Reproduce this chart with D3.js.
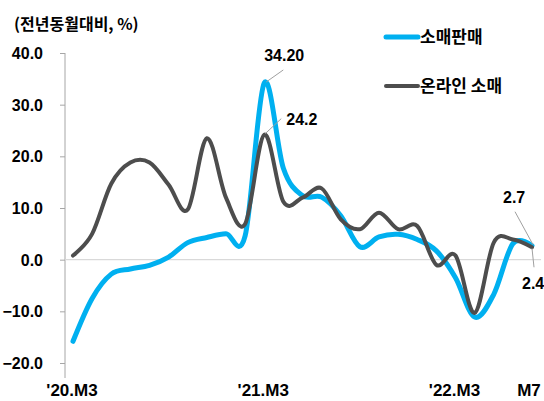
<!DOCTYPE html>
<html>
<head>
<meta charset="utf-8">
<script src="https://cdn.jsdelivr.net/npm/d3@7"></script>
<style>
  html, body { margin: 0; padding: 0; background: #fff; }
  svg { display: block; }
  text { font-family: "Noto Sans CJK KR", "Liberation Sans", sans-serif; font-weight: bold; fill: #000; }
  .num { font-family: "Liberation Sans", Arial, sans-serif; }
</style>
</head>
<body>
<script>
// Months shown (Jan/Feb omitted)
const months = [
  "20.3","20.4","20.5","20.6","20.7","20.8","20.9","20.10","20.11","20.12",
  "21.3","21.4","21.5","21.6","21.7","21.8","21.9","21.10","21.11","21.12",
  "22.3","22.4","22.5","22.6","22.7"
];
// 소매판매 (YoY %)
const retail = [
  -15.8, -7.5, -2.8, -1.8, -1.1, 0.5, 3.3, 4.3, 5.0, 4.6,
  34.2, 17.7, 12.4, 12.1, 8.5, 2.5, 4.4, 4.9, 3.9, 1.7,
  -3.5, -11.1, -6.7, 3.1, 2.7
];
// 온라인 소매 (YoY %)
const online = [
  0.8, 5.0, 14.7, 18.8, 18.8, 14.5, 9.7, 23.5, 12.0, 6.9,
  24.2, 11.2, 12.0, 13.8, 7.8, 5.9, 9.1, 5.9, 6.5, -1.0,
  0.8, -10.3, 3.3, 3.9, 2.4
];
// Category axis labels
const xTickLabels = [
  { month: "20.3", label: "'20.M3" },
  { month: "21.3", label: "'21.M3" },
  { month: "22.3", label: "'22.M3" },
  { month: "22.7", label: "M7" }
];
const yTicks = [-20, -10, 0, 10, 20, 30, 40];

const W = 544, H = 401;
const svg = d3.select("body").append("svg").attr("width", W).attr("height", H);

const x = d3.scalePoint().domain(months).range([73, 532]);
const y = d3.scaleLinear().domain([-20, 40]).range([363, 53]);

const BLUE = "#00B0F0", GRAY = "#4D4D4D";

// Title
svg.append("text").attr("x", 14).attr("y", 30).style("font-size", "16px").text("(전년동월대비, %)");

// Y axis
const yAxis = d3.axisLeft(y).tickValues(yTicks).tickSize(5).tickPadding(17)
  .tickFormat(d3.format(".1f"));
const gy = svg.append("g").attr("transform", "translate(65,0)").call(yAxis);
gy.select(".domain").remove();
gy.selectAll(".tick line").attr("stroke", "#a6a6a6");
gy.selectAll(".tick text").attr("class", "num").style("font-size", "16px")
  .style("font-weight", "bold").attr("fill", "#000").attr("dy", "0.35em");
svg.append("line").attr("x1", 65).attr("x2", 65).attr("y1", y(40)).attr("y2", 378)
  .attr("stroke", "#a6a6a6").attr("stroke-width", 1);

// Zero line
svg.append("line").attr("x1", 65).attr("x2", 541).attr("y1", y(0)).attr("y2", y(0))
  .attr("stroke", "#d9d9d9").attr("stroke-width", 1.2);

// X labels
svg.selectAll(".xl").data(xTickLabels).enter().append("text")
  .attr("class", "num")
  .attr("x", d => x(d.month) - (d.label === "M7" ? 3 : 1))
  .attr("y", 396).attr("text-anchor", "middle").style("font-size", "17px")
  .text(d => d.label);

// Lines
const line = d3.line().x((d, i) => x(months[i])).y(d => y(d)).curve(d3.curveCardinal.tension(0));
svg.append("path").datum(retail).attr("d", line).attr("fill", "none")
  .attr("stroke", BLUE).attr("stroke-width", 5).attr("stroke-linejoin", "round").attr("stroke-linecap", "round");
svg.append("path").datum(online).attr("d", line).attr("fill", "none")
  .attr("stroke", GRAY).attr("stroke-width", 4).attr("stroke-linejoin", "round").attr("stroke-linecap", "round");

// Value callouts
const fmt1 = d3.format(".1f"), fmt2 = d3.format(".2f");
const iPeak = months.indexOf("21.3"), iLast = months.length - 1;
function callout(px, py, lx1, ly1, lx2, ly2, tx, ty, str, anchor) {
  svg.append("line").attr("x1", px + lx1).attr("y1", py + ly1).attr("x2", px + lx2).attr("y2", py + ly2)
    .attr("stroke", "#a0a0a0").attr("stroke-width", 1);
  svg.append("text").attr("class", "num").attr("x", px + tx).attr("y", py + ty)
    .attr("text-anchor", anchor).style("font-size", "16px").text(str);
}
{
  const px = x(months[iPeak]);
  callout(px, y(retail[iPeak]), 2, -1, 19, -13, 20, -22, fmt2(retail[iPeak]), "middle");
  callout(px, y(online[iPeak]), 1, -1, 17, -16, 22, -10, fmt1(online[iPeak]), "start");
  const ex = x(months[iLast]);
  callout(ex, y(retail[iLast]), -17, -34, 1, -1, -29, -43, fmt1(retail[iLast]), "start");
  callout(ex, y(online[iLast]), 2, 20, 0, 1, -10, 42, fmt1(online[iLast]), "start");
}

// Legend
const legend = [
  { name: "소매판매", color: BLUE, y: 37, w: 5 },
  { name: "온라인 소매", color: GRAY, y: 86, w: 4 }
];
const lg = svg.selectAll(".lg").data(legend).enter().append("g");
lg.append("line").attr("x1", 386).attr("x2", 418).attr("y1", d => d.y).attr("y2", d => d.y)
  .attr("stroke", d => d.color).attr("stroke-width", d => d.w).attr("stroke-linecap", "round");
lg.append("text").attr("x", 420).attr("y", d => d.y).attr("dy", "0.35em")
  .style("font-size", "17px").text(d => d.name);
</script>
</body>
</html>
